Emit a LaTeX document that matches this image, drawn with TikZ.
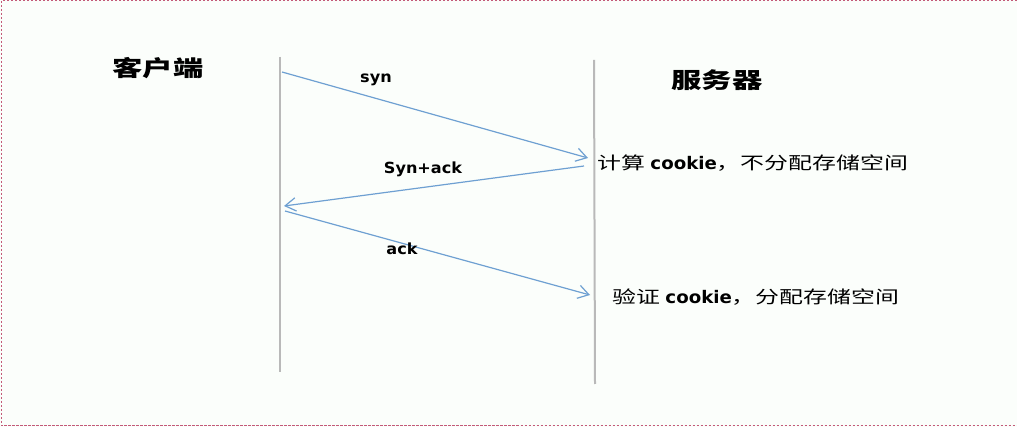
\documentclass[tikz,border=0pt]{standalone}
\usepackage{fontspec}
\usetikzlibrary{arrows.meta}
\newfontfamily\cjkfont[FakeStretch=1.38]{Noto Sans CJK SC}
\newfontfamily\latb[FakeStretch=1.05]{DejaVu Sans Bold}
\definecolor{bg}{RGB}{251,254,251}
\definecolor{lifeln}{RGB}{185,185,185}
\definecolor{msg}{RGB}{110,160,210}
\definecolor{frame}{RGB}{195,90,120}
\tikzset{
  lifeline/.style={draw=lifeln, line width=1.5pt},
  message/.style={draw=msg, line width=0.9pt, -{Straight Barb[length=8pt,width=10pt,line width=0.9pt]}},
  actor/.style={inner sep=0pt, font=\cjkfont\bfseries\fontsize{16.5pt}{18pt}\selectfont},
  note/.style={inner sep=0pt, anchor=west, font=\cjkfont\fontsize{13pt}{15pt}\selectfont},
  lbl/.style={inner sep=0pt, font=\latb\fontsize{11.5pt}{13pt}\selectfont},
}
\begin{document}
\begin{tikzpicture}[x=0.75pt,y=-0.75pt]
\fill[bg] (0,0) rectangle (1017,427);
\useasboundingbox (0,0) rectangle (1017,427);
\draw[frame, line width=0.9pt, dash pattern=on 1.8pt off 1.2pt] (1017,0.6) -- (1.2,0.6) -- (1.2,425.5) -- (1017,425.5);
% lifelines
\coordinate (ctop) at (280,57);
\coordinate (cbot) at (280,372);
\coordinate (stop) at (594,60);
\coordinate (sbot) at (595,384);
\draw[lifeline] (ctop) -- (cbot);
\draw[lifeline] (stop) -- (sbot);
% actors
\node[actor] (client) at (158,68) {客户端};
\node[actor] (server) at (717,80) {服务器};
% message endpoints
\coordinate (s1) at (282,72);
\coordinate (e1) at (588,158);
\coordinate (s2) at (584,166);
\coordinate (e2) at (284,206);
\coordinate (s3) at (285,211);
\coordinate (e3) at (590,295);
\draw[message] (s1) -- (e1);
\draw[message] (s2) -- (e2);
\draw[message] (s3) -- (e3);
% labels
\node[lbl] (lsyn) at (376,80) {syn};
\node[lbl] (lsynack) at (423,169) {Syn+ack};
\node[lbl] (lack) at (402,249) {ack};
% notes
\node[note] (n1) at (597,163) {计算 {\latb cookie}，不分配存储空间};
\node[note] (n2) at (612,297) {验证 {\latb cookie}，分配存储空间};
\end{tikzpicture}
\end{document}
